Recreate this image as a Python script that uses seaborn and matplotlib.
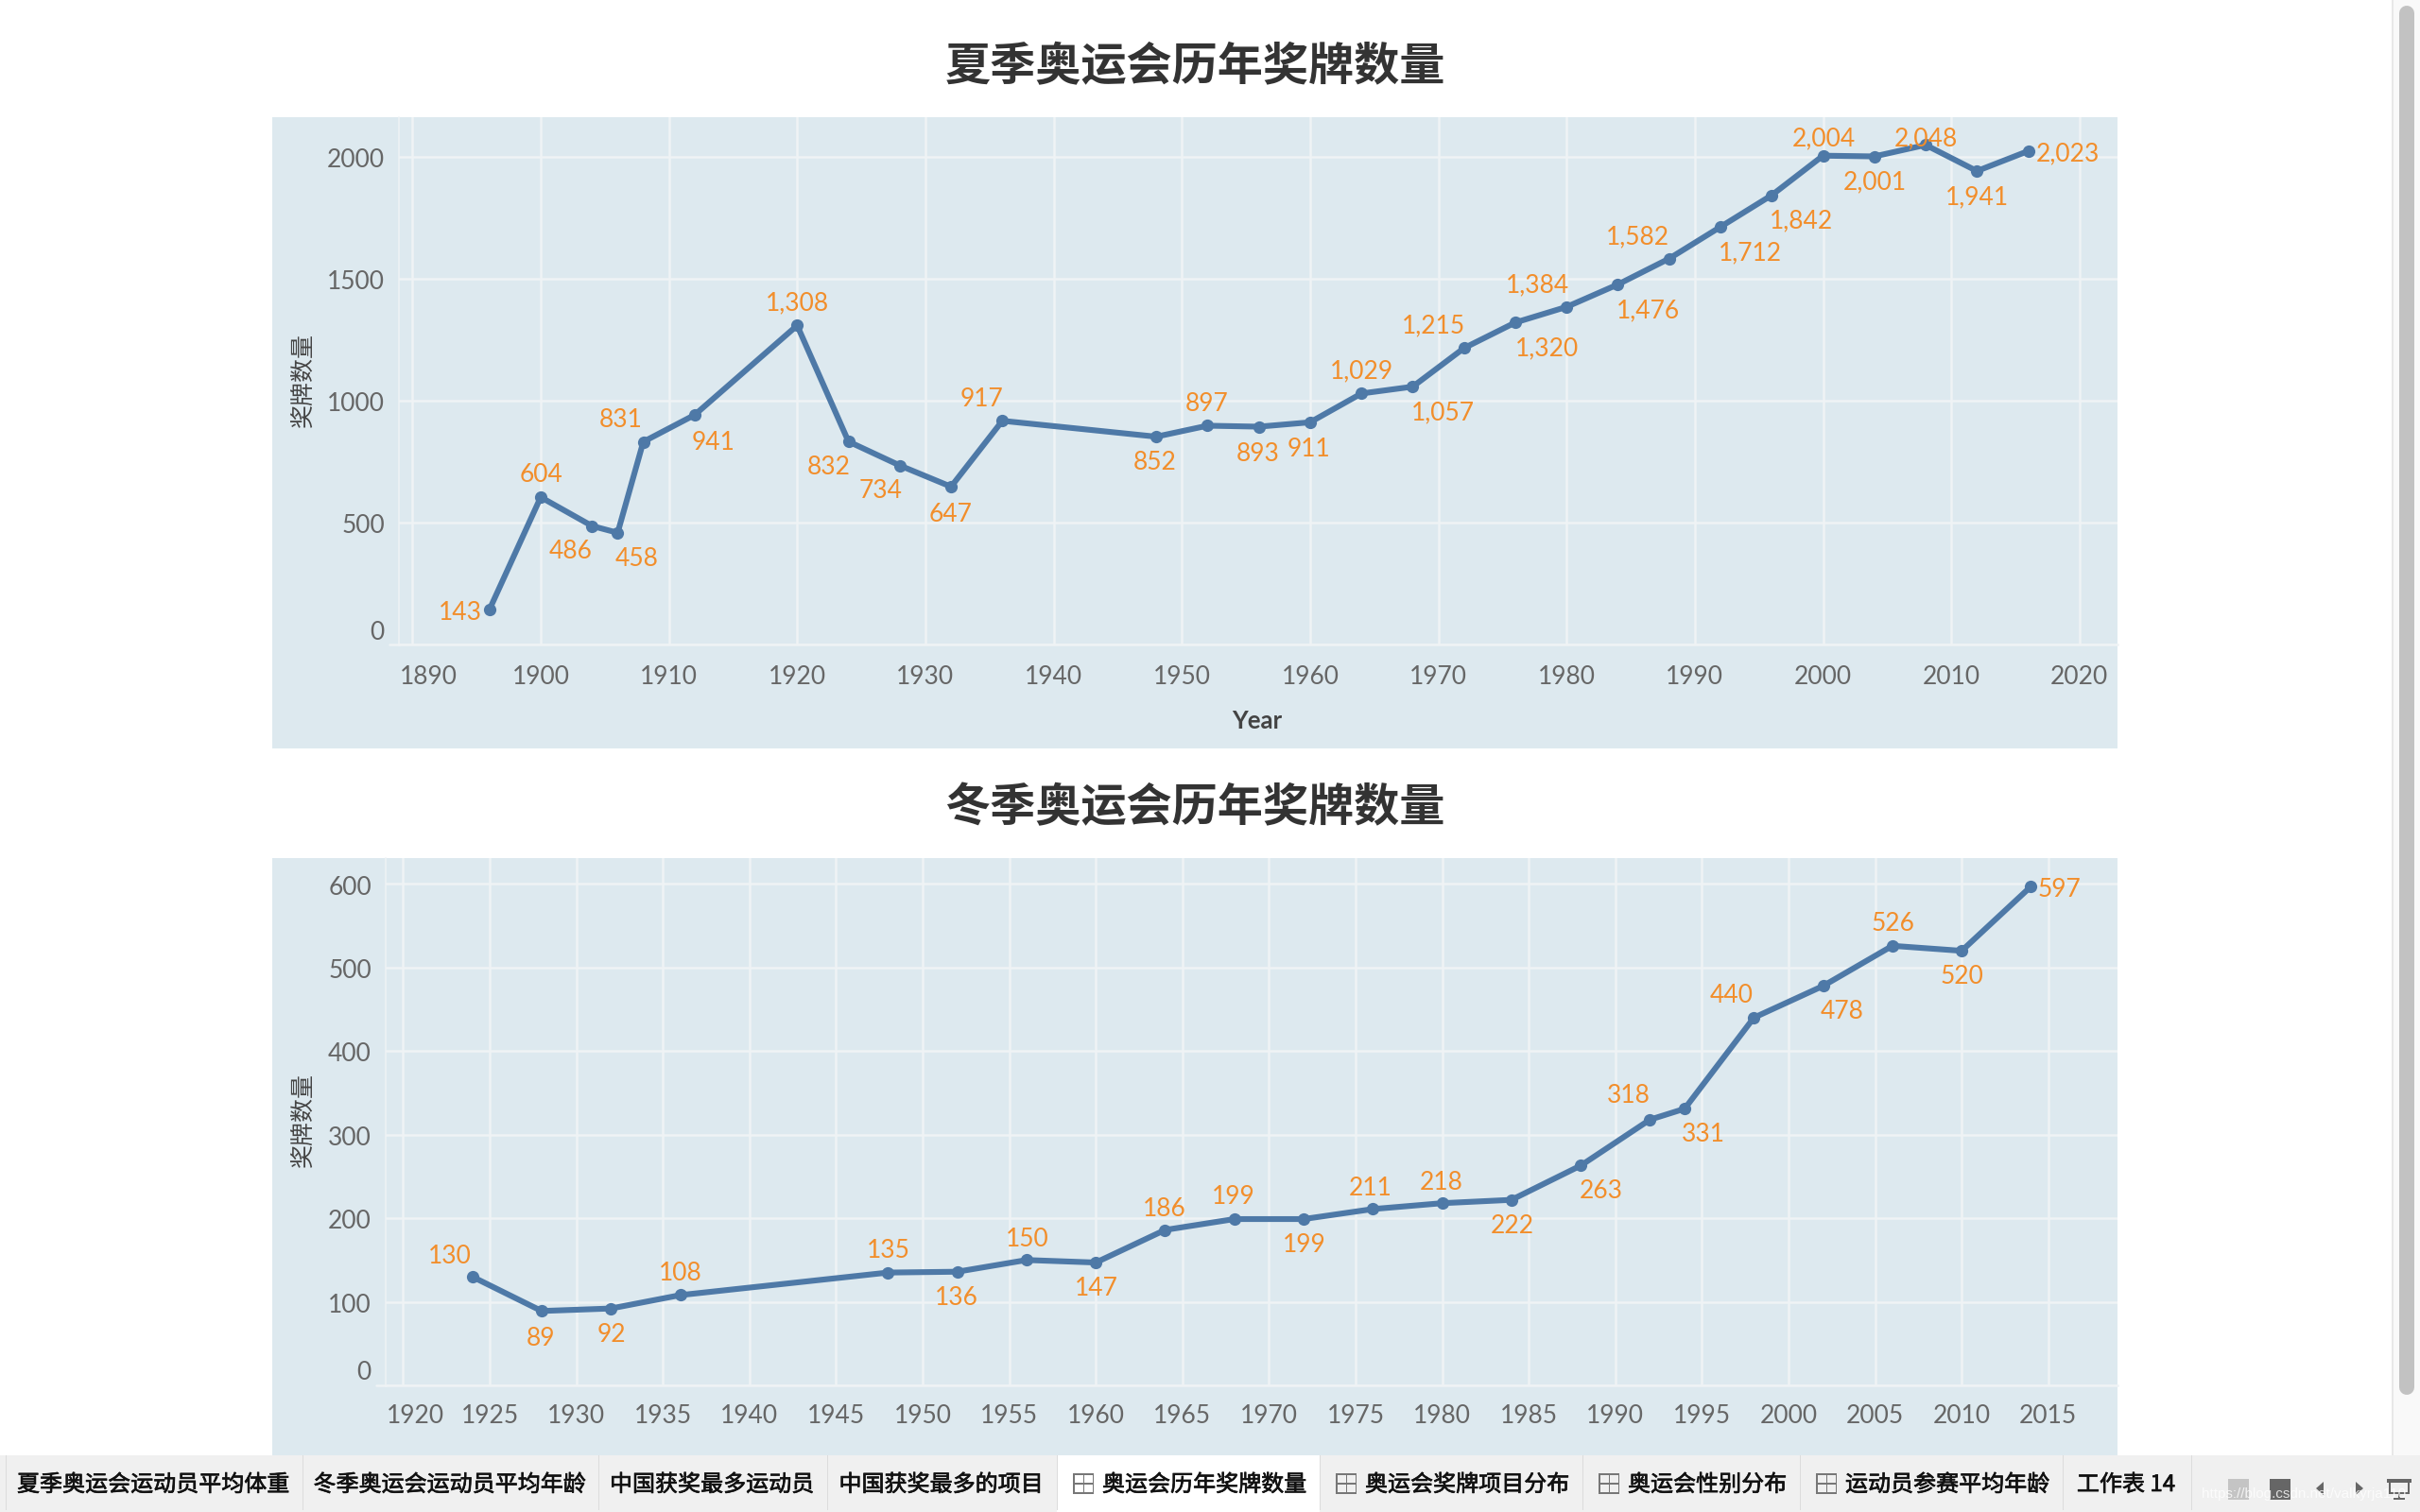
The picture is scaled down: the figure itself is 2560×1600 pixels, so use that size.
import matplotlib
matplotlib.use("Agg")
import matplotlib.pyplot as plt
from matplotlib.lines import Line2D
from matplotlib.patches import Rectangle, Polygon
from matplotlib import patheffects as pe
import seaborn as sns
import pandas as pd

sns.set_theme(style="white")
plt.rcParams['font.family'] = ['Lato', 'Noto Sans CJK SC', 'DejaVu Sans']
CJK = ['Noto Sans CJK SC', 'DejaVu Sans']

summer_title = "夏季奥运会历年奖牌数量"
winter_title = "冬季奥运会历年奖牌数量"
y_title = "奖牌数量"
x_title = "Year"
summer_years = [1896,1900,1904,1906,1908,1912,1920,1924,1928,1932,1936,1948,1952,1956,1960,1964,1968,1972,1976,1980,1984,1988,1992,1996,2000,2004,2008,2012,2016]
summer_medals = [143,604,486,458,831,941,1308,832,734,647,917,852,897,893,911,1029,1057,1215,1320,1384,1476,1582,1712,1842,2004,2001,2048,1941,2023]
winter_years = [1924,1928,1932,1936,1948,1952,1956,1960,1964,1968,1972,1976,1980,1984,1988,1992,1994,1998,2002,2006,2010,2014]
winter_medals = [130,89,92,108,135,136,150,147,186,199,199,211,218,222,263,318,331,440,478,526,520,597]
summer_xticks = list(range(1890, 2021, 10))
winter_xticks = list(range(1920, 2016, 5))
summer_yticks = [0,500,1000,1500,2000]
winter_yticks = [0,100,200,300,400,500,600]
tabs = ["夏季奥运会运动员平均体重","冬季奥运会运动员平均年龄","中国获奖最多运动员","中国获奖最多的项目","奥运会历年奖牌数量","奥运会奖牌项目分布","奥运会性别分布","运动员参赛平均年龄","工作表 14"]

# label offsets, in pixels of the 1568-wide view
summer_off = [(-19,0),(0,-16),(-14,15),(12,15),(-15,-16),(12,16),(0,-16),(-13,15),(-13,15),(-1,16),(-14,-16),(-1,15),(-1,-16),(-1,16),(-1,16),(0,-16),(19,15),(-20,-16),(20,15),(-19,-16),(19,15),(-21,-16),(19,15),(19,15),(0,-13),(0,15),(0,-6),(0,15),(25,0)]
winter_off = [(-15,-15),(-1,16),(0,15),(0,-16),(0,-16),(-1,15),(0,-15),(0,15),(-1,-15),(-1,-16),(0,15),(-2,-15),(-1,-15),(0,15),(13,15),(-14,-17),(12,15),(-15,-16),(12,15),(0,-16),(0,15),(18,0)]
tab_edges = [6,320,633,875,1118,1396,1674,1904,2182,2318]
tab_icon = [False,False,False,False,True,True,True,True,False]
ACTIVE = 4

W, H = 2560, 1600
LINE, ORANGE, PANEL, GRID, GREY = "#4e79a7", "#f28e2b", "#dde9ef", "#eff3f5", "#666666"
S = 2560/1568
PT = 0.72
fig = plt.figure(figsize=(25.6, 16), dpi=100, facecolor="white")

def frect(x0, y0, x1, y1, **kw):
    fig.add_artist(Rectangle((x0/W, 1-y1/H), (x1-x0)/W, (y1-y0)/H, transform=fig.transFigure, lw=0, **kw))

def panel(top, bottom, ax_left, ax_right, ax_top, ax_bot, x_lo, x_hi, y_hi, years, medals, xticks, yticks, offs, title, title_y, xt_y, xtitle_y, x_first_shift, y_first_shift, ytick_right, ylabel_y, stub):
    frect(288, top, 2240, bottom, color=PANEL, zorder=0)
    ax = fig.add_axes([ax_left/W, 1-ax_bot/H, (ax_right-ax_left)/W, (ax_bot-ax_top)/H], facecolor="none", zorder=2)
    df = pd.DataFrame({"year": years, "medals": medals})
    sns.lineplot(data=df, x="year", y="medals", ax=ax, color=LINE, lw=4.4, marker="o", markersize=9.5, markeredgewidth=0, estimator=None, sort=False, clip_on=False, zorder=4)
    ax.set_xlim(x_lo, x_hi); ax.set_ylim(0, y_hi)
    ax.set_xticks(xticks); ax.set_yticks(yticks)
    ax.set_xticklabels([]); ax.set_yticklabels([])
    ax.grid(True, color=GRID, lw=1.8); ax.set_axisbelow(True)
    ax.tick_params(axis="y", length=0)
    ax.tick_params(axis="x", length=7, width=1.8, color=GRID)
    for s in ["top","right"]:
        ax.spines[s].set_visible(False)
    ax.spines["left"].set_visible(True); ax.spines["left"].set_color(GRID); ax.spines["left"].set_linewidth(1.1)
    ax.spines["bottom"].set_visible(True); ax.spines["bottom"].set_color(GRID); ax.spines["bottom"].set_linewidth(1.8)
    ax.set_xlabel(""); ax.set_ylabel("")
    # axis line runs a little to the left of the plot
    ax.plot([-stub/(ax_right-ax_left), 0], [0, 0], transform=ax.transAxes, color=GRID, lw=1.8, clip_on=False)
    for i, t in enumerate(xticks):
        dx = x_first_shift if i == 0 else 0
        ax.annotate(str(t), (t, 0), xycoords=("data","axes fraction"), xytext=(dx*S*PT, -(xt_y-ax_bot)*PT), textcoords="offset points", ha="center", va="center", fontsize=19, color=GREY, annotation_clip=False)
    for i, t in enumerate(yticks):
        dy = y_first_shift if i == 0 else 0
        ax.annotate(str(t), (0, t), xycoords=("axes fraction","data"), xytext=(-(ax_left-ytick_right)*PT, dy*S*PT-2.6), textcoords="offset points", ha="right", va="center", fontsize=19, color=GREY, annotation_clip=False)
    for x, y, (dx, dy) in zip(years, medals, offs):
        ax.annotate(f"{y:,}", (x, y), xytext=((dx+0.4)*S*PT, -(dy+1.8)*S*PT), textcoords="offset points", ha="center", va="center", fontsize=19, color=ORANGE, zorder=6, annotation_clip=False)
    fig.text(1264/W, 1-title_y/H, title, ha="center", va="center", fontsize=34.7, fontweight="bold", color="#333333", family=CJK)
    fig.text(320.5/W, 1-ylabel_y/H, y_title, rotation=90, ha="center", va="center", fontsize=18, color="#444444", family=CJK)
    fig.text(1330/W, 1-xtitle_y/H, x_title, ha="center", va="center", fontsize=18.5, fontweight="bold", color="#444444", zorder=1)
    return ax

panel(124, 792, 422, 2240, 124, 682, 1900-(572-422)/13.565, 1900+(2240-572)/13.565, (418-76)*1000/158.2,
      summer_years, summer_medals, summer_xticks, summer_yticks, summer_off, summer_title, 71, 716, 763, 10.5, 10, 407, 402, 10)
panel(908, 1560, 408, 2240, 908, 1466, 1925-(518-408)/18.32, 1925+(2240-518)/18.32, (898-556)*100/54.2,
      winter_years, winter_medals, winter_xticks, winter_yticks, winter_off, winter_title, 855, 1499, 1551, 8.3, 10.5, 393, 1185, 10)

# worksheet tab strip
Z = 10
frect(0, 1540, 2560, 1600, color="#f0f0f0", zorder=Z)
frect(tab_edges[ACTIVE], 1540, tab_edges[ACTIVE+1], 1600, color="white", zorder=Z+0.1)
for e in tab_edges:
    frect(e-0.5, 1540, e+1, 1598, color="#dcdcdc", zorder=Z+0.2)
for i, name in enumerate(tabs):
    x0, x1 = tab_edges[i], tab_edges[i+1]
    c = (x0+x1)/2 - 1
    if tab_icon[i]:
        ix = x0+17
        for (a, b, c2, d) in [(ix,1559,ix+22,1560.5),(ix,1579,ix+22,1580.5),(ix,1569,ix+22,1570.5),(ix,1559,ix+1.5,1580),(ix+20.5,1559,ix+22,1580),(ix+10.5,1559,ix+12,1580)]:
            frect(a, b, c2, d, color="#777777", zorder=Z+0.3)
        c = (x0+44+x1-6)/2 - 2
    fig.text(c/W, 1-1571/H, name, ha="center", va="center", fontsize=17.3, color="#111111", family=CJK, zorder=Z+0.4,
             path_effects=[pe.withStroke(linewidth=0.5, foreground="#111111")])

# sheet-navigation icons and scrollbar
frect(2357, 1565, 2379, 1587, color="#c4c4c4", zorder=Z+0.3)
frect(2401, 1565, 2423, 1587, color="#666666", zorder=Z+0.3)
def tri(pts):
    fig.add_artist(Polygon([(x/W, 1-y/H) for x, y in pts], transform=fig.transFigure, color="#666666", lw=0, zorder=Z+0.3))
tri([(2458,1568),(2458,1582),(2450,1575)])
tri([(2492,1568),(2492,1582),(2500,1575)])
frect(2525, 1565, 2551, 1569, color="#666666", zorder=Z+0.3)
frect(2527, 1569, 2529, 1581, color="#666666", zorder=Z+0.3)
frect(2547, 1569, 2549, 1581, color="#666666", zorder=Z+0.3)
frect(2527, 1579, 2549, 1581, color="#666666", zorder=Z+0.3)
frect(2537, 1581, 2539, 1586, color="#666666", zorder=Z+0.3)
frect(2532, 1585, 2544, 1587, color="#666666", zorder=Z+0.3)
fig.text(2437/W, 1-1581/H, "https://blog.csdn.net/valkyrja110", ha="center", va="center", fontsize=11, color="#ffffff", alpha=0.8, family=["Liberation Sans"], zorder=Z+0.5)
frect(2530, 0, 2560, 1540, color="#f9f9f9", zorder=1)
frect(2530, 0, 2532, 1540, color="#e8e8e8", zorder=1)
fig.add_artist(Line2D([2546/W, 2546/W], [1-14/H, 1-1468/H], transform=fig.transFigure, color="#c2c2c2", lw=16*PT, solid_capstyle="round", zorder=1.1))

fig.savefig("out.png", dpi=100, facecolor="white")
